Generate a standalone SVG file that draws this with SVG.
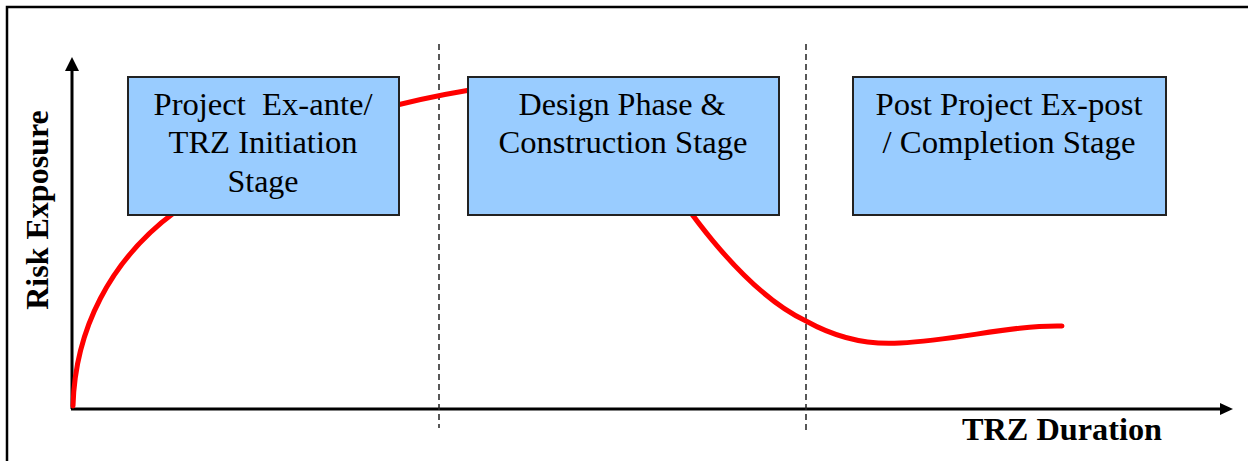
<svg xmlns="http://www.w3.org/2000/svg" width="1248" height="461" viewBox="0 0 1248 461">
<defs>
<style>
.frame{fill:none;stroke:#000;stroke-width:2.5}
.axis{stroke:#000;stroke-width:3;fill:none}
.div{stroke:#222;stroke-width:1.5;stroke-dasharray:6 4;fill:none}
.risk{stroke:#f00;stroke-width:5;fill:none;stroke-linecap:round}
.box{fill:#99CCFF;stroke:#222;stroke-width:2}
.bt{font-family:"Times New Roman","Liberation Serif",Tinos,serif;font-size:31px;fill:#000;text-anchor:middle}
.lab{font-family:"Times New Roman","Liberation Serif",Tinos,serif;font-size:32px;font-weight:bold;fill:#000}
</style>
</defs>
<rect class="frame" x="7" y="7" width="1260" height="480"/>
<g id="connectors">
<line class="axis" x1="72" y1="409" x2="72" y2="68"/>
<polygon points="72,57 65,71 79,71" fill="#000"/>
<line class="axis" x1="71" y1="409" x2="1222" y2="409"/>
<polygon points="1233,409 1220,403 1220,415" fill="#000"/>
<line class="div" x1="439" y1="44" x2="439" y2="428"/>
<line class="div" x1="806" y1="44" x2="806" y2="430"/>
<path class="risk" d="M73,406 C75,330 110,260 175,212 C240,160 320,115 470,90"/>
<path class="risk" d="M640,140 C680,200 740,290 806,321 C840,340 870,345 900,343 C960,340 1010,325 1062,326"/>
</g>
<g id="box1">
<rect class="box" x="128" y="77" width="271" height="138"/>
<text class="bt" x="263" y="115" textLength="219" lengthAdjust="spacingAndGlyphs" xml:space="preserve">Project  Ex-ante/</text>
<text class="bt" x="263" y="153" textLength="189" lengthAdjust="spacingAndGlyphs">TRZ Initiation</text>
<text class="bt" x="263" y="192" textLength="71" lengthAdjust="spacingAndGlyphs">Stage</text>
</g>
<g id="box2">
<rect class="box" x="468" y="77" width="311" height="138"/>
<text class="bt" x="622" y="115" textLength="207" lengthAdjust="spacingAndGlyphs">Design Phase &amp;</text>
<text class="bt" x="623" y="153" textLength="249" lengthAdjust="spacingAndGlyphs">Construction Stage</text>
</g>
<g id="box3">
<rect class="box" x="853" y="77" width="313" height="138"/>
<text class="bt" x="1009" y="115" textLength="267" lengthAdjust="spacingAndGlyphs">Post Project Ex-post</text>
<text class="bt" x="1009" y="153" textLength="253" lengthAdjust="spacingAndGlyphs">/ Completion Stage</text>
</g>
<g id="labels">
<text class="lab" transform="translate(48,210) rotate(-90)" text-anchor="middle">Risk Exposure</text>
<text class="lab" x="962" y="440" textLength="200" lengthAdjust="spacingAndGlyphs">TRZ Duration</text>
</g>
</svg>
